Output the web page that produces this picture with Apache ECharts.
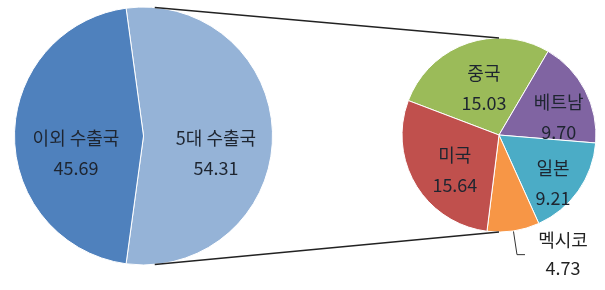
<!DOCTYPE html>
<html>
<head>
<meta charset="utf-8">
<script src="https://cdn.jsdelivr.net/npm/echarts@6/dist/echarts.min.js"></script>
<style>
  html, body { margin: 0; padding: 0; background: #fff; }
  #chart { width: 605px; height: 290px; }
</style>
</head>
<body>
<div id="chart"></div>
<script>
// 전체: 5대 수출국 / 이외 수출국
var bigNames = ['5대 수출국', '이외 수출국'];
var bigValues = [54.31, 45.69];
// 5대 수출국 내역
var topNames = ['중국', '베트남', '일본', '멕시코', '미국'];
var topValues = [15.03, 9.70, 9.21, 4.73, 15.64];

var bigColors = ['#95B3D7', '#4F81BD'];
var topColors = ['#9BBB59', '#8064A2', '#4BACC6', '#F79646', '#C0504D'];

// 파이 위치
var c1 = [143.5, 136], r1 = 129;
var c2 = [499, 135], r2 = 97;

// 라벨 미세 조정 (엑셀 배치 흉내)
var nudge = [
    [[5, 17], [0, 17]],
    [[2, 2], [14, 6], [12, 18], [0, 0], [0, 9]]
];

var font = '"Noto Sans CJK KR", sans-serif';

function fmt(p) {
    return p.name + '\n' + p.value.toFixed(2);
}

var labelStyle = {
    show: true,
    position: 'inside',
    formatter: fmt,
    fontFamily: font,
    fontSize: 18,
    lineHeight: 30,
    color: '#1e2530'
};

var bigData = bigNames.map(function (n, i) {
    return { name: n, value: bigValues[i], itemStyle: { color: bigColors[i] } };
});
var topData = topNames.map(function (n, i) {
    var d = { name: n, value: topValues[i], itemStyle: { color: topColors[i] } };
    if (n == '멕시코') {
        d.label = {
            position: 'outside',
            color: '#222',
            formatter: function (p) {
                return '{a|' + p.name + '}\n{a|' + p.value.toFixed(2) + '}';
            },
            rich: { a: { width: 66, align: 'center', fontFamily: font, fontSize: 18, lineHeight: 28, color: '#222' } }
        };
        d.labelLine = { show: true, length: 24, length2: 8, lineStyle: { color: '#333', width: 1 } };
    }
    return d;
});

// 연결선 (왼쪽 파이 위/아래 -> 오른쪽 파이 위/아래)
var a = 85 * Math.PI / 180;
var p1 = [c1[0] + r1 * Math.cos(a), c1[1] - r1 * Math.sin(a)];
var p2 = [c1[0] + r1 * Math.cos(a), c1[1] + r1 * Math.sin(a)];

function layoutFor(idx) {
    return function (params) {
        var n = nudge[idx][params.dataIndex];
        return { dx: n[0], dy: n[1] };
    };
}

var mychart = echarts.init(document.getElementById('chart'));
var option = {
    animation: false,
    graphic: [
        { type: 'line', z: 10, shape: { x1: p1[0], y1: p1[1], x2: c2[0], y2: c2[1] - r2 }, style: { stroke: '#222', lineWidth: 1.5 } },
        { type: 'line', z: 10, shape: { x1: p2[0], y1: p2[1], x2: c2[0], y2: c2[1] + r2 }, style: { stroke: '#222', lineWidth: 1.5 } }
    ],
    series: [
        {
            type: 'pie',
            center: c1,
            radius: r1,
            startAngle: bigValues[0] / (bigValues[0] + bigValues[1]) * 180,
            clockwise: true,
            avoidLabelOverlap: false,
            itemStyle: { borderColor: '#fff', borderWidth: 1 },
            label: labelStyle,
            labelLine: { show: false },
            labelLayout: layoutFor(0),
            emphasis: { disabled: true },
            data: bigData
        },
        {
            type: 'pie',
            center: c2,
            radius: r2,
            startAngle: 159.2,
            clockwise: true,
            avoidLabelOverlap: false,
            itemStyle: { borderColor: '#fff', borderWidth: 1 },
            label: labelStyle,
            labelLine: { show: false },
            labelLayout: layoutFor(1),
            emphasis: { disabled: true },
            data: topData
        }
    ]
};
mychart.setOption(option);
</script>
</body>
</html>
